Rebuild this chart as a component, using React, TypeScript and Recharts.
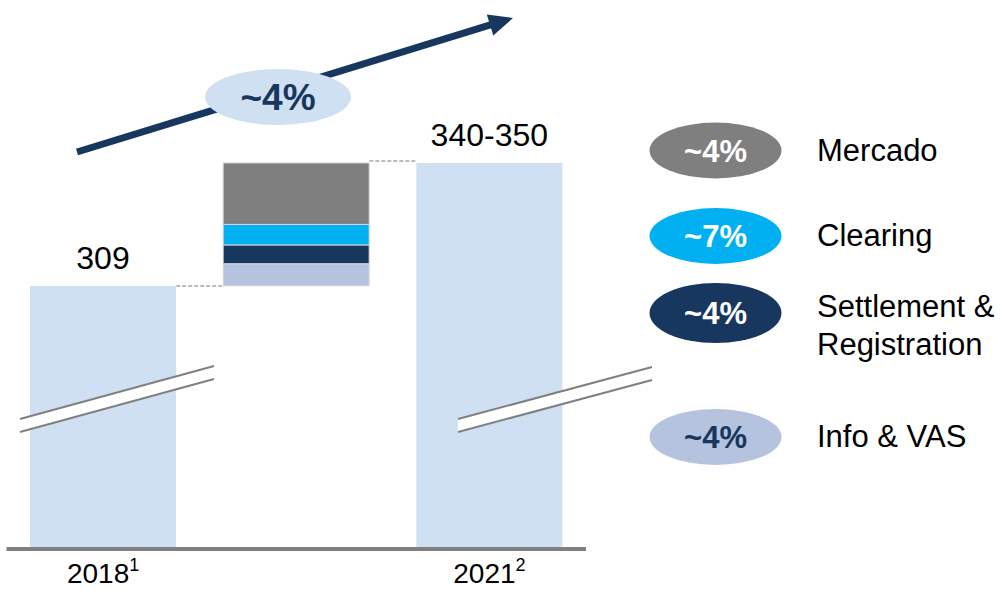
import React from "react";
import { BarChart, Bar, XAxis, YAxis, LabelList } from "recharts";

// revenue bridge 2018 -> 2021 (axis is broken, so values start at ~232)
const categories = ["2018", "", "2021"];
const footnotes = ["1", "", "2"];
const totals = [309, 0, 345];
const totalLabels = ["309", "", "340-350"];
const bridgeBase = [0, 309, 0];
const infoVas = [0, 6.5, 0];
const settlement = [0, 5.5, 0];
const clearing = [0, 6, 0];
const mercado = [0, 18, 0];

const legendNames = [["Mercado"], ["Clearing"], ["Settlement &", "Registration"], ["Info & VAS"]];
const legendGrowth = ["~4%", "~7%", "~4%", "~4%"];
const cagrLabel = "~4%";

const FONT = '"Liberation Sans", Arial, sans-serif';
const W = 1003;
const H = 590;
const X_AXIS_H = 30;
const MARGIN = { top: 77.5, right: 417, bottom: 41 - X_AXIS_H, left: 6.5 };
const Y_DOMAIN: [number, number] = [232, 370];
const CAT_GAP = 23.5;

const C_BAR = "#cfe0f2";
const C_MERCADO = "#7f7f7f";
const C_CLEARING = "#00b0f0";
const C_SETTLE = "#17375e";
const C_INFO = "#b6c3de";
const legendColors = [C_MERCADO, C_CLEARING, C_SETTLE, C_INFO];
const legendTextColors = ["#fff", "#fff", "#fff", C_SETTLE];

const data = categories.map((name, i) => ({
  name,
  base: bridgeBase[i],
  infoVas: infoVas[i],
  settlement: settlement[i],
  clearing: clearing[i],
  mercado: mercado[i],
  total: totals[i],
  label: totalLabels[i],
}));

// same geometry the chart uses, for the overlay bits
const plotW = W - MARGIN.left - MARGIN.right;
const plotH = H - MARGIN.top - MARGIN.bottom - X_AXIS_H;
const band = plotW / categories.length;
const barLeft = (i: number) => MARGIN.left + i * band + CAT_GAP;
const barRight = (i: number) => MARGIN.left + (i + 1) * band - CAT_GAP;
const yOf = (v: number) => MARGIN.top + ((Y_DOMAIN[1] - v) / (Y_DOMAIN[1] - Y_DOMAIN[0])) * plotH;

const YearTick = (props: any) => {
  const { x, y, payload, index } = props;
  return (
    <text x={x} y={y + 32} textAnchor="middle" fontFamily={FONT} fontSize={28} fill="#000">
      {payload.value}
      <tspan dy={-12} fontSize={18}>
        {footnotes[index]}
      </tspan>
    </text>
  );
};

const TotalLabel = (props: any) => {
  const { x, y, width, value, index } = props;
  if (!value) return null;
  const off = index === 2 ? 24 : 17;
  return (
    <text x={x + width / 2} y={y - off} textAnchor="middle" fontFamily={FONT} fontSize={32} fill="#000">
      {value}
    </text>
  );
};

function BreakMark({ x1, y1, x2, y2 }: { x1: number; y1: number; x2: number; y2: number }) {
  const gap = 13;
  return (
    <g>
      <polygon points={`${x1},${y1} ${x2},${y2} ${x2},${y2 + gap} ${x1},${y1 + gap}`} fill="#fff" />
      <line x1={x1} y1={y1} x2={x2} y2={y2} stroke="#808080" strokeWidth={2} />
      <line x1={x1} y1={y1 + gap} x2={x2} y2={y2 + gap} stroke="#808080" strokeWidth={2} />
    </g>
  );
}

function Overlay() {
  const bridgeTop = bridgeBase[1] + infoVas[1] + settlement[1] + clearing[1] + mercado[1];
  // arrow
  const sx = 77, sy = 152, tx = 513, ty = 18;
  const len = Math.hypot(tx - sx, ty - sy);
  const ux = (tx - sx) / len, uy = (ty - sy) / len;
  const headL = 24, headW = 11;
  const bx = tx - ux * headL, by = ty - uy * headL;
  const px = -uy, py = ux;

  return (
    <svg width={W} height={H} style={{ position: "absolute", left: 0, top: 0, pointerEvents: "none" }}>
      {/* connectors */}
      <line x1={barRight(0)} y1={yOf(totals[0])} x2={barLeft(1)} y2={yOf(totals[0])} stroke="#a6a6a6" strokeWidth={1.5} strokeDasharray="4 2" />
      <line x1={barRight(1)} y1={yOf(bridgeTop) - 2} x2={barLeft(2)} y2={yOf(bridgeTop) - 2} stroke="#a6a6a6" strokeWidth={1.5} strokeDasharray="4 2" />

      {/* axis breaks */}
      <BreakMark x1={20} y1={419} x2={214} y2={366} />
      <BreakMark x1={458} y1={419} x2={652} y2={367} />

      {/* CAGR arrow */}
      <line x1={sx} y1={sy} x2={bx + ux * 2} y2={by + uy * 2} stroke={C_SETTLE} strokeWidth={7} />
      <polygon points={`${tx},${ty} ${bx + px * headW},${by + py * headW} ${bx - px * headW},${by - py * headW}`} fill={C_SETTLE} />
      <ellipse cx={278} cy={97} rx={73} ry={28} fill={C_BAR} />
      <text x={278} y={110} textAnchor="middle" fontFamily={FONT} fontWeight="bold" fontSize={37} fill={C_SETTLE}>
        {cagrLabel}
      </text>

      {/* legend */}
      {legendNames.map((lines, i) => {
        const cy = [150.5, 236, 313, 437][i];
        const ry = i === 2 ? 30 : 28;
        return (
          <g key={i}>
            <ellipse cx={715.5} cy={cy} rx={66} ry={ry} fill={legendColors[i]} />
            <text x={715.5} y={cy + 11} textAnchor="middle" fontFamily={FONT} fontWeight="bold" fontSize={31} fill={legendTextColors[i]}>
              {legendGrowth[i]}
            </text>
            {lines.map((t, j) => (
              <text key={j} x={817} y={cy + 10 + (lines.length > 1 ? -6 + j * 38 : 0)} fontFamily={FONT} fontSize={31} fill="#000">
                {t}
              </text>
            ))}
          </g>
        );
      })}
    </svg>
  );
}

export default function App() {
  return (
    <div style={{ position: "absolute", left: 0, top: 0, width: W, height: H, background: "#fff" }}>
      <BarChart width={W} height={H} data={data} margin={MARGIN} barCategoryGap={CAT_GAP}>
        <XAxis
          dataKey="name"
          height={X_AXIS_H}
          axisLine={{ stroke: "#808080", strokeWidth: 4 }}
          tickLine={false}
          tickSize={0}
          tick={<YearTick />}
          interval={0}
        />
        <YAxis hide domain={Y_DOMAIN} allowDataOverflow />
        <Bar dataKey="base" stackId="a" fill="transparent" isAnimationActive={false} />
        <Bar dataKey="infoVas" stackId="a" fill={C_INFO} stroke="#d9d9d9" strokeWidth={1} isAnimationActive={false} />
        <Bar dataKey="settlement" stackId="a" fill={C_SETTLE} stroke="#d9d9d9" strokeWidth={1} isAnimationActive={false} />
        <Bar dataKey="clearing" stackId="a" fill={C_CLEARING} stroke="#d9d9d9" strokeWidth={1} isAnimationActive={false} />
        <Bar dataKey="mercado" stackId="a" fill={C_MERCADO} stroke="#d9d9d9" strokeWidth={1} isAnimationActive={false} />
        <Bar dataKey="total" stackId="a" fill={C_BAR} isAnimationActive={false}>
          <LabelList dataKey="label" content={<TotalLabel />} />
        </Bar>
      </BarChart>
      <Overlay />
    </div>
  );
}
